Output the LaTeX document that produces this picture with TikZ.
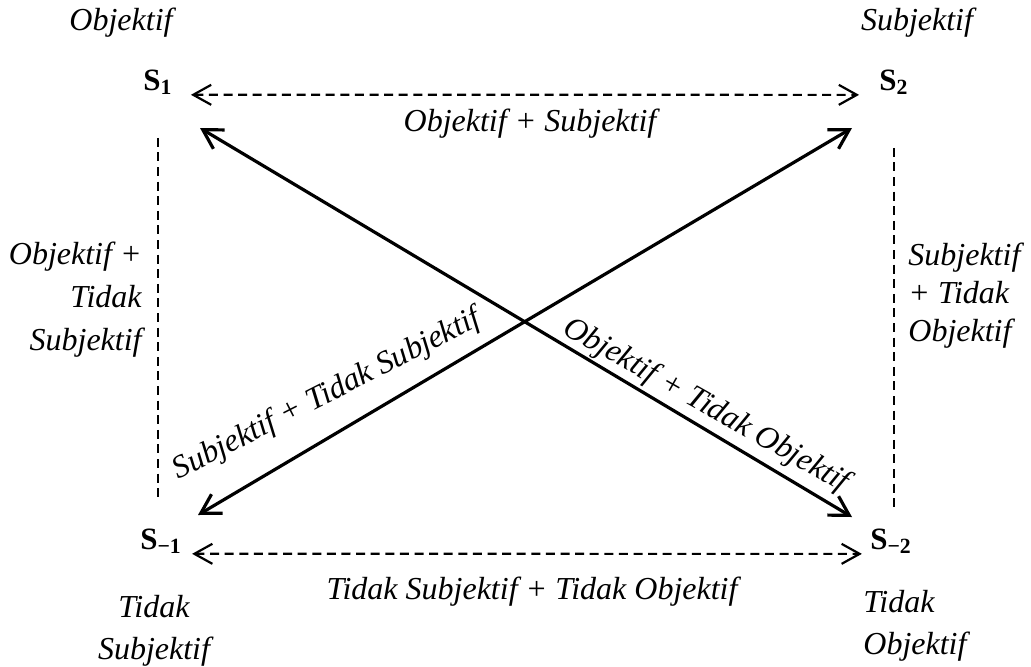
\documentclass[tikz,border=0pt]{standalone}
\usepackage{fontspec}
\setmainfont{Liberation Serif}[
    UprightFont={Liberation Serif},
    ItalicFont={Liberation Serif Italic},
    BoldFont={Liberation Serif Bold},
    BoldItalicFont={Liberation Serif Bold Italic}]
\usetikzlibrary{arrows.meta}

\begin{document}
\begin{tikzpicture}[
    x=0.5pt, y=-0.5pt,
    lbl/.style={inner sep=0pt, font=\fontsize{16}{21.5}\selectfont\itshape},
    state/.style={inner sep=0pt, font=\fontsize{15.5}{18}\selectfont\bfseries},
    relation/.style={{Straight Barb[length=9pt,width=10pt]}-{Straight Barb[length=9pt,width=10pt]}, line width=1.1pt, dash pattern=on 4.5pt off 2.8pt},
    contrary/.style={{Straight Barb[length=9.5pt,width=11pt]}-{Straight Barb[length=9.5pt,width=11pt]}, line width=1.6pt},
    side/.style={line width=1.1pt, dash pattern=on 4.5pt off 2.8pt}
]
    \useasboundingbox (0,0) rectangle (1031,666);

    % Corner states
    \node[state, anchor=base] (s1) at (158,90) {S\textsubscript{\bfseries 1}};
    \node[state, anchor=base] (s2) at (894,90) {S\textsubscript{\bfseries 2}};
    \node[state, anchor=base] (s3) at (161,549) {S\textsubscript{\bfseries −1}};
    \node[state, anchor=base] (s4) at (891,549) {S\textsubscript{\bfseries −2}};

    % Corner labels
    \node[lbl, anchor=base] (objA) at (121,30) {Objektif};
    \node[lbl, anchor=base] (subA) at (917,30) {Subjektif};
    \node[lbl, anchor=north, align=center, font=\fontsize{16}{21}\selectfont\itshape] (subB) at (154,595) {Tidak\\Subjektif};
    \node[lbl, anchor=north west, align=left, font=\fontsize{16}{21}\selectfont\itshape] (objB) at (863,590) {Tidak\\Objektif};

    % Horizontal relations
    \draw[relation, shorten <=9pt, shorten >=10pt] (s1.south east) -- (s2.south west);
    \draw[relation, shorten <=5pt, shorten >=4pt] (s3.south east) -- (s4.south west);
    \node[lbl, anchor=base] (topRel) at (530,131) {Objektif + Subjektif};
    \node[lbl, anchor=base] (botRel) at (532,599) {Tidak Subjektif + Tidak Objektif};

    % Vertical sides
    \draw[side, shorten <=21.5pt, shorten >=15pt] (s1.south) -- (s1.south |- s3.north);
    \draw[side, shorten <=26.5pt, shorten >=10pt] (s2.south) -- (s2.south |- s4.north);
    \node[lbl, anchor=north east, align=right] (leftRel) at (142,242) {Objektif +\\Tidak\\Subjektif};
    \node[lbl, anchor=north west, align=left, font=\fontsize{16}{19}\selectfont\itshape] (rightRel) at (908,243) {Subjektif\\+ Tidak\\Objektif};

    % Diagonals
    \coordinate (nw) at (200,128);
    \coordinate (ne) at (852,128);
    \coordinate (sw) at (198,515);
    \coordinate (se) at (852,517);
    \draw[contrary] (nw) -- (se);
    \draw[contrary] (sw) -- (ne);
    \node[lbl, rotate=27] (diagA) at (327,395) {Subjektif + Tidak Subjektif};
    \node[lbl, rotate=-29.5] (diagB) at (706,406) {Objektif + Tidak Objektif};
\end{tikzpicture}
\end{document}
